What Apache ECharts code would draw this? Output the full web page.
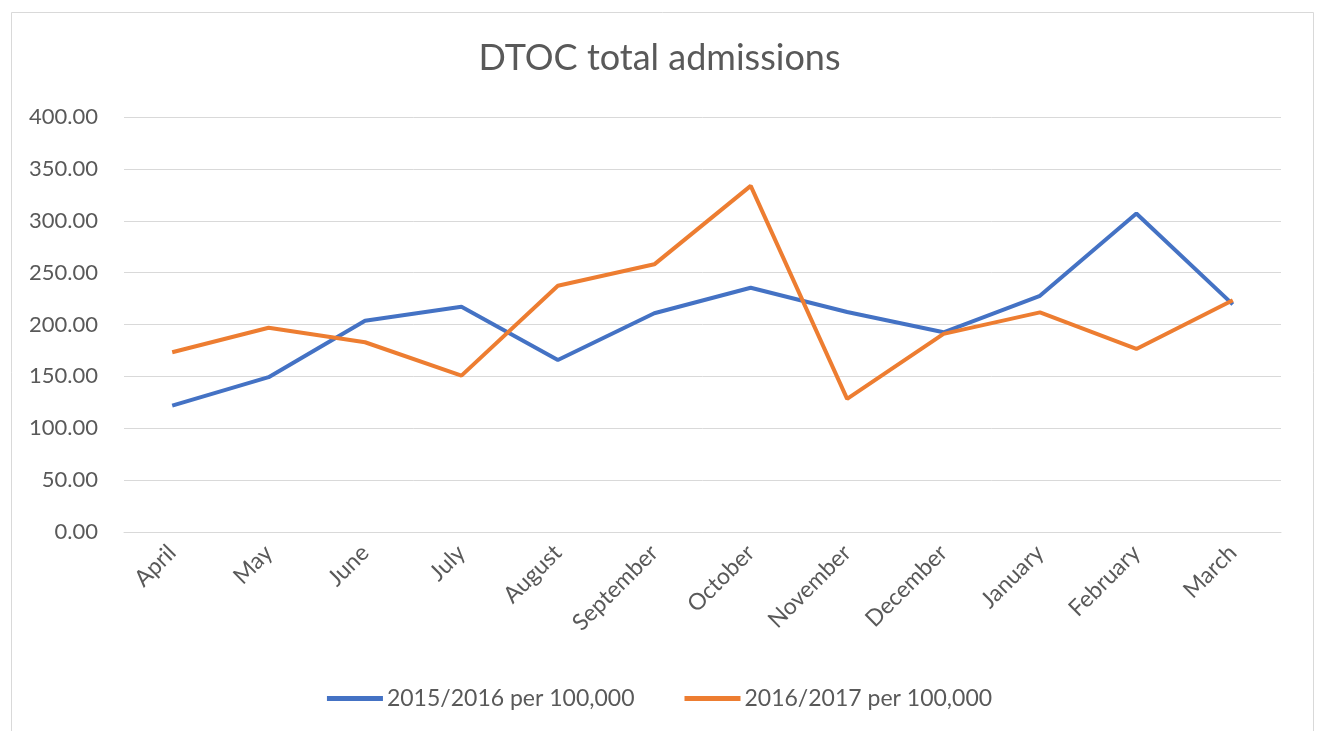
<!DOCTYPE html>
<html>
<head>
<meta charset="utf-8">
<script src="https://cdn.jsdelivr.net/npm/echarts@6/dist/echarts.min.js"></script>
<style>
html,body{margin:0;padding:0;background:#fff;}
#c{width:1319px;height:731px;}
</style>
</head>
<body>
<div id="c"></div>
<script>
const months = ['April','May','June','July','August','September','October','November','December','January','February','March'];
const s2015 = [121.8, 149.2, 203.7, 217.1, 165.8, 210.8, 235.4, 212.0, 192.5, 227.7, 307.0, 219.4];
const s2016 = [173.2, 196.9, 182.9, 150.7, 237.3, 258.0, 333.6, 128.3, 191.0, 211.7, 176.4, 223.4];
const seriesNames = ['2015/2016 per 100,000', '2016/2017 per 100,000'];
const titleText = 'DTOC total admissions';

const FONT = 'Lato, "Open Sans", sans-serif';
const chart = echarts.init(document.getElementById('c'), null, {renderer:'canvas'});
chart.setOption({
  backgroundColor: '#fff',
  animation: false,
  graphic: [{
    type: 'rect', left: 9, top: 10, silent: true,
    shape: {width: 1302, height: 740},
    style: {fill: 'none', stroke: '#d9d9d9', lineWidth: 1}
  }],
  title: {
    text: titleText, left: 'center', top: 35,
    textStyle: {fontFamily: FONT, fontSize: 36, fontWeight: 'normal', color: '#595959'}
  },
  legend: {
    top: 682, left: 'center', itemWidth: 56, itemHeight: 5, itemGap: 50,
    icon: 'rect',
    textStyle: {fontFamily: FONT, fontSize: 23, color: '#595959', padding: [0,0,0,-1]},
    data: seriesNames
  },
  grid: {left: 124, right: 38, top: 117, bottom: 199, containLabel: false},
  xAxis: {
    type: 'category', data: months, boundaryGap: true,
    axisLine: {show: true, lineStyle: {color: '#d9d9d9'}},
    axisTick: {show: false},
    axisLabel: {rotate: 45, margin: 17, fontFamily: FONT, fontSize: 23, color: '#595959'}
  },
  yAxis: {
    type: 'value', min: 0, max: 400, interval: 50,
    axisLine: {show: false}, axisTick: {show: false},
    splitLine: {lineStyle: {color: '#d9d9d9', width: 1}},
    axisLabel: {margin: 26, fontFamily: FONT, fontSize: 22, color: '#595959',
      formatter: v => v.toFixed(2)}
  },
  series: [
    {name: seriesNames[0], type: 'line', data: s2015, symbol: 'none',
     lineStyle: {width: 4, color: '#4472C4'}, itemStyle: {color: '#4472C4'}},
    {name: seriesNames[1], type: 'line', data: s2016, symbol: 'none',
     lineStyle: {width: 4, color: '#ED7D31'}, itemStyle: {color: '#ED7D31'}}
  ]
});
</script>
</body>
</html>
